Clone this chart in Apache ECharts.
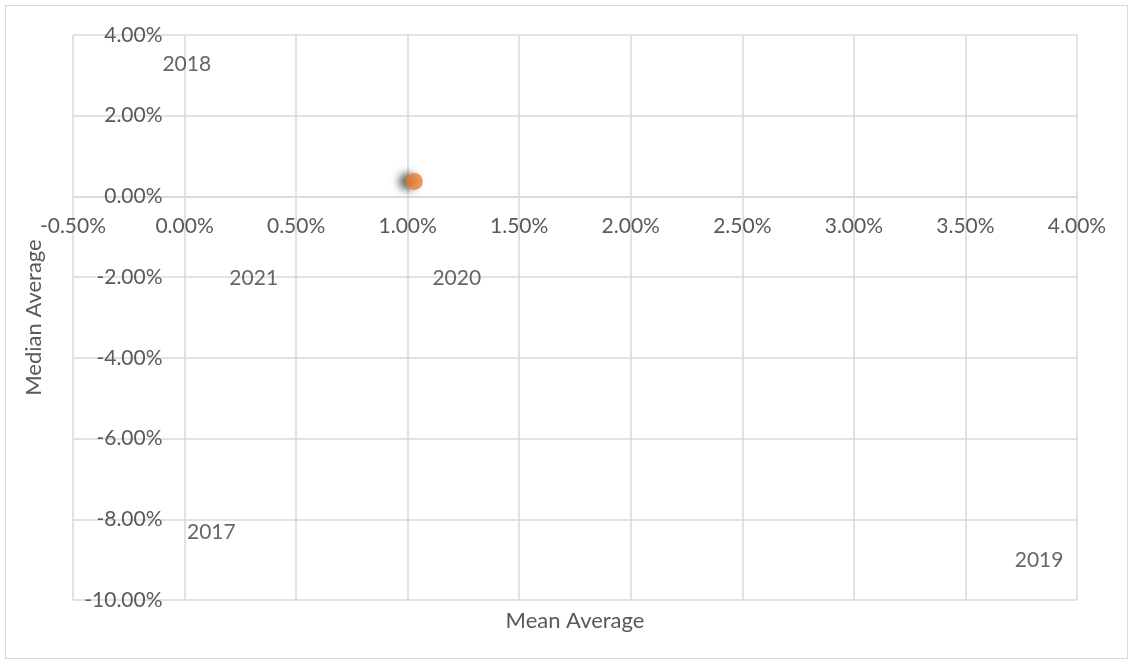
<!DOCTYPE html>
<html>
<head>
<meta charset="utf-8">
<script src="https://cdn.jsdelivr.net/npm/echarts@6/dist/echarts.min.js"></script>
<style>
html,body{margin:0;padding:0;background:#fff;}
#chart{width:1133px;height:664px;}
</style>
</head>
<body>
<div id="chart"></div>
<script>
// Data (percent units)
var pointX = [1.03];
var pointY = [0.37];
var yearLabels = ['2018', '2021', '2020', '2017', '2019'];
var labelX = [0.01, 0.31, 1.22, 0.12, 3.83];
var labelY = [3.27, -2.02, -2.02, -8.33, -9.02];
var xTicks = { min: -0.5, max: 4.0, interval: 0.5 };
var yTicks = { min: -10, max: 4, interval: 2 };
var xTitle = 'Mean Average';
var yTitle = 'Median Average';

var font = 'Lato, "Open Sans", sans-serif';
var W = 1133, H = 664;
var G = { left: 73, right: 56, top: 35, bottom: 64 };
var plotW = W - G.left - G.right, plotH = H - G.top - G.bottom;
// axes cross at zero: shift each axis from its default edge to the zero line of the other
var xAxisOffset = -plotH * (0 - yTicks.min) / (yTicks.max - yTicks.min);
var yAxisOffset = -plotW * (0 - xTicks.min) / (xTicks.max - xTicks.min);

var chart = echarts.init(document.getElementById('chart'), null, { renderer: 'canvas' });

var pointData = pointX.map(function (x, i) { return [x, pointY[i]]; });
var labelData = yearLabels.map(function (t, i) { return { value: [labelX[i], labelY[i]], name: t }; });

chart.setOption({
  animation: false,
  backgroundColor: '#ffffff',
  graphic: [{
    type: 'rect', silent: true, z: -10,
    shape: { x: 5.5, y: 5.5, width: 1122, height: 653 },
    style: { fill: 'none', stroke: '#d9d9d9', lineWidth: 1 }
  }],
  grid: { left: G.left, right: G.right, top: G.top, bottom: G.bottom, containLabel: false, outerBoundsMode: 'none' },
  xAxis: {
    type: 'value', position: 'bottom', offset: xAxisOffset,
    min: xTicks.min, max: xTicks.max, interval: xTicks.interval,
    name: xTitle, nameLocation: 'middle', nameGap: 413,
    nameTextStyle: { color: '#595959', fontSize: 22, fontFamily: font },
    axisLine: { show: true, onZero: false, lineStyle: { color: '#d9d9d9', width: 1.5 } },
    axisTick: { show: false },
    splitLine: { show: true, lineStyle: { color: '#d9d9d9', width: 1.5 } },
    axisLabel: {
      color: '#595959', fontSize: 21, fontFamily: font, margin: 19,
      formatter: function (v) { return v.toFixed(2) + '%'; }
    }
  },
  yAxis: {
    type: 'value', position: 'left', offset: yAxisOffset,
    min: yTicks.min, max: yTicks.max, interval: yTicks.interval,
    name: yTitle, nameLocation: 'middle', nameGap: 140,
    nameTextStyle: { color: '#595959', fontSize: 22, fontFamily: font },
    axisLine: { show: false, onZero: false },
    axisTick: { show: false },
    splitLine: { show: true, lineStyle: { color: '#d9d9d9', width: 1.5 } },
    axisLabel: {
      color: '#595959', fontSize: 21, fontFamily: font, margin: 22,
      formatter: function (v) { return v.toFixed(2) + '%'; }
    }
  },
  series: [
    {
      type: 'scatter',
      data: labelData,
      symbolSize: 1,
      itemStyle: { color: 'rgba(0,0,0,0)' },
      label: {
        show: true, position: 'inside',
        formatter: function (p) { return p.name; },
        color: '#404040', fontSize: 21, fontFamily: font
      },
      z: 3
    },
    {
      type: 'scatter',
      data: pointData,
      symbolSize: 17,
      itemStyle: {
        color: '#ed7d31',
        shadowColor: 'rgba(0,0,0,0.8)',
        shadowBlur: 8,
        shadowOffsetX: -7,
        shadowOffsetY: 0
      },
      z: 4
    }
  ]
});
</script>
</body>
</html>
